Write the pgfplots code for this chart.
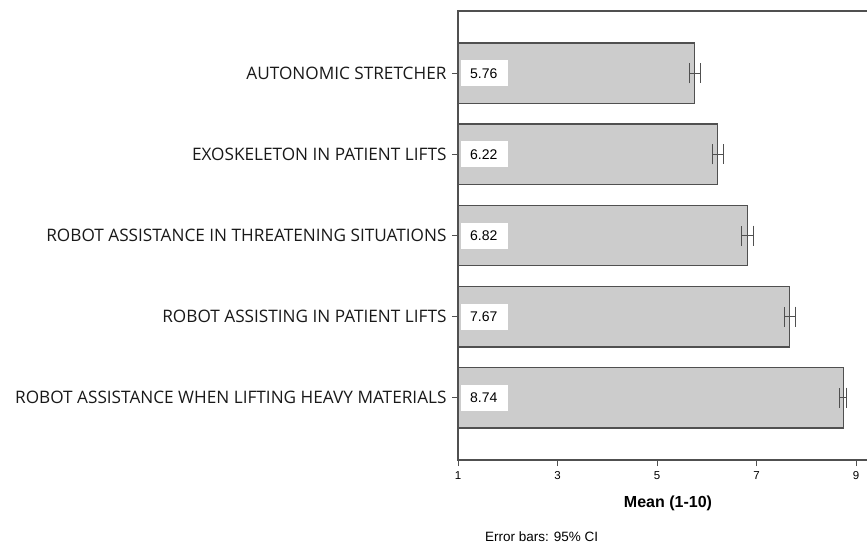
\documentclass[border=0pt]{standalone}
\usepackage{fontspec}
\setmainfont{Open Sans}
\newfontfamily\arialfont{Liberation Sans}
\usepackage{pgfplots}
\pgfplotsset{compat=1.18}
\definecolor{barfill}{RGB}{204,204,204}
\definecolor{edge}{RGB}{80,80,80}
\begin{document}
\begin{tikzpicture}
\useasboundingbox (-458bp,-85bp) rectangle (409bp,460bp);
\begin{axis}[
  at={(0,0)}, anchor=south west,
  scale only axis, width=409bp, height=449bp,
  xmin=1, xmax=9.22, ymin=-0.77, ymax=4.77,
  y dir=reverse,
  xtick={1,3,5,7,9},
  ytick={0,1,2,3,4},
  yticklabels={AUTONOMIC STRETCHER, EXOSKELETON IN PATIENT LIFTS, ROBOT ASSISTANCE IN THREATENING SITUATIONS, ROBOT ASSISTING IN PATIENT LIFTS, ROBOT ASSISTANCE WHEN LIFTING HEAVY MATERIALS},
  yticklabel style={font=\fontsize{17.2bp}{20bp}\selectfont, xshift=-2bp, text=black!90},
  xticklabel style={font=\arialfont\fontsize{11.5bp}{13bp}\selectfont, yshift=-2bp},
  /pgf/number format/assume math mode=true,
  tick align=outside, major tick length=6bp,
  tick style={edge, line width=0.8bp},
  xtick pos=bottom, ytick pos=left,
  axis line style={draw=none},
  xlabel={\arialfont\bfseries\fontsize{16bp}{19bp}\selectfont Mean (1-10)},
  xlabel style={at={(axis description cs:0.5,0)}, anchor=center, yshift=-43bp, xshift=5.5bp},
  clip=false,
]
\draw[edge, line width=1.2bp] (rel axis cs:1,1) -- (rel axis cs:0,1) -- (rel axis cs:0,0) -- (rel axis cs:1,0);
\addplot[xbar, bar width=0.75, fill=barfill, draw=edge, line width=1.2bp,
  error bars/.cd, x dir=both, x explicit, error bar style={edge, line width=1bp}, error mark options={rotate=90, mark size=10bp, edge, line width=1bp}]
  coordinates {
  (5.76,0) +- (0.11,0)
  (6.22,1) +- (0.11,0)
  (6.82,2) +- (0.12,0)
  (7.67,3) +- (0.11,0)
  (8.74,4) +- (0.07,0)
  };
\addplot[draw=none, mark=none, nodes near coords, point meta=explicit symbolic,
  nodes near coords style={fill=white, anchor=west, inner xsep=0pt, minimum width=47bp, minimum height=26bp, text width=47bp, align=left, font=\arialfont\fontsize{14bp}{16bp}\selectfont, xshift=3bp}]
  coordinates {
  (1,0) [\hspace*{9bp}5.76]
  (1,1) [\hspace*{9bp}6.22]
  (1,2) [\hspace*{9bp}6.82]
  (1,3) [\hspace*{9bp}7.67]
  (1,4) [\hspace*{9bp}8.74]
  };
\node[font=\arialfont\fontsize{13.5bp}{16bp}\selectfont, anchor=west, inner sep=0pt] at ([xshift=27bp, yshift=-77bp]rel axis cs:0,0) {Error bars: 95\% CI};
\end{axis}
\end{tikzpicture}
\end{document}
